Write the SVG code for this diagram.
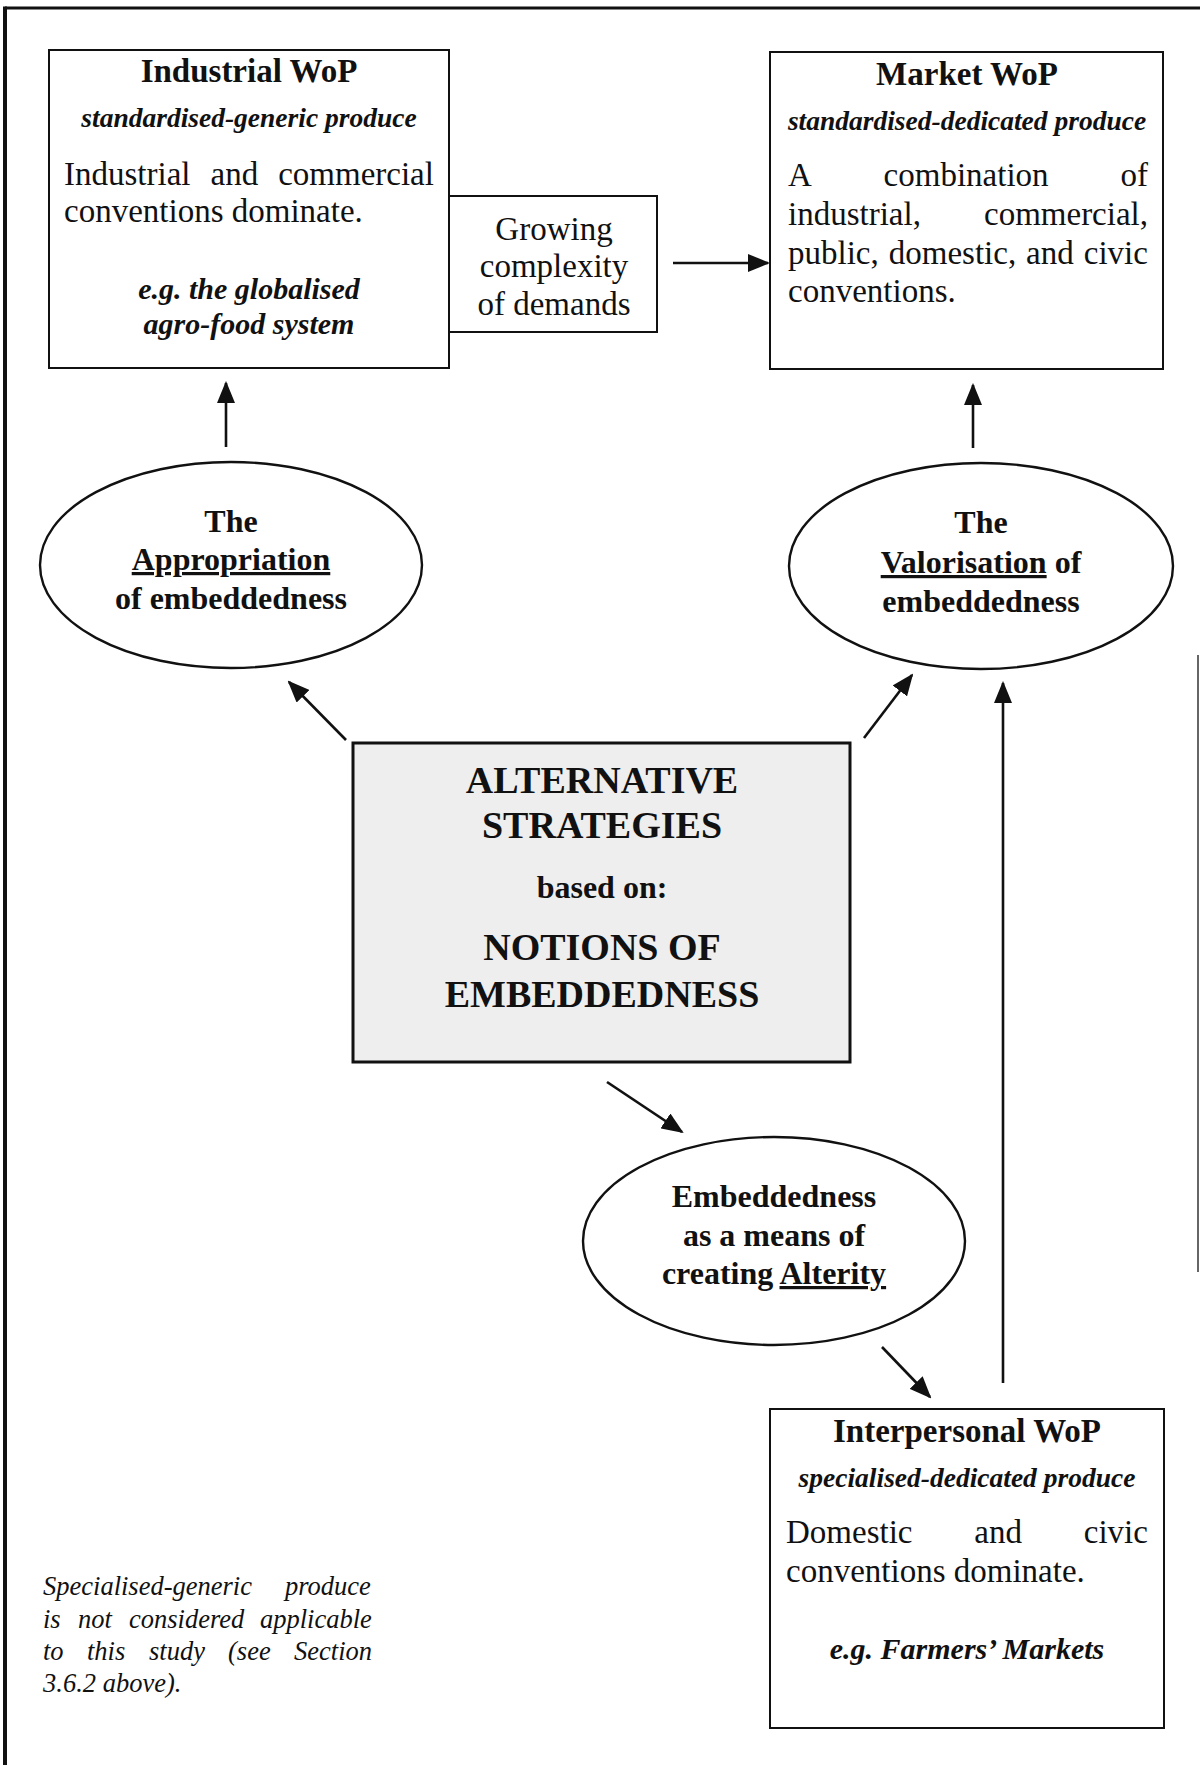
<svg xmlns="http://www.w3.org/2000/svg" width="1200" height="1765" viewBox="0 0 1200 1765">
<defs>
<marker id="ah" markerUnits="userSpaceOnUse" markerWidth="22" markerHeight="18" viewBox="0 0 22 18" refX="20" refY="9" orient="auto">
<path d="M0,0 L22,9 L0,18 z" fill="#111"/>
</marker>
</defs>
<style>
text{font-family:"Liberation Serif","Times New Roman",serif;fill:#111}
.box{fill:#fff;stroke:#111;stroke-width:2}
.ell{fill:#fff;stroke:#111;stroke-width:2.4}
.title{font-size:33px;font-weight:bold;text-anchor:middle}
.sub{font-size:27.5px;font-weight:bold;font-style:italic;text-anchor:middle}
.body{font-size:33px}
.eg{font-size:30px;font-weight:bold;font-style:italic;text-anchor:middle}
.eb{font-size:32px;font-weight:bold;text-anchor:middle}
.big{font-size:38px;font-weight:bold;text-anchor:middle}
.note{font-size:26.5px;font-style:italic}
.conn line{stroke:#111;stroke-width:2.6;marker-end:url(#ah)}
</style>
<rect x="0" y="0" width="1200" height="1765" fill="#fff"/>
<g id="frame">
<line x1="5" y1="8" x2="1200" y2="8" stroke="#111" stroke-width="3"/>
<line x1="5" y1="6.5" x2="5" y2="1765" stroke="#111" stroke-width="4"/>
<line x1="1198" y1="655" x2="1198" y2="1272" stroke="#666" stroke-width="2"/>
</g>

<g id="industrial">
<rect class="box" x="49" y="50" width="400" height="318"/>
<text class="title" x="249" y="82">Industrial WoP</text>
<text class="sub" x="249" y="127">standardised-generic produce</text>
<text class="body" y="185"><tspan x="64">Industrial</tspan><tspan x="210.5">and</tspan><tspan x="278.2">commercial</tspan></text>
<text class="body" x="64" y="222">conventions dominate.</text>
<text class="eg" x="249" y="299">e.g. the globalised</text>
<text class="eg" x="249" y="334">agro-food system</text>
</g>

<g id="growing">
<rect class="box" x="449" y="196" width="208" height="136"/>
<text class="body" x="554" y="240" text-anchor="middle">Growing</text>
<text class="body" x="554" y="277" text-anchor="middle">complexity</text>
<text class="body" x="554" y="315" text-anchor="middle">of demands</text>
</g>

<g id="market">
<rect class="box" x="770" y="52" width="393" height="317"/>
<text class="title" x="967" y="85">Market WoP</text>
<text class="sub" x="967" y="130">standardised-dedicated produce</text>
<text class="body" y="186"><tspan x="788">A</tspan><tspan x="883.6">combination</tspan><tspan x="1120.5">of</tspan></text>
<text class="body" y="225"><tspan x="788">industrial,</tspan><tspan x="984">commercial,</tspan></text>
<text class="body" y="264"><tspan x="788">public,</tspan><tspan x="888.8">domestic,</tspan><tspan x="1026.1">and</tspan><tspan x="1083.8">civic</tspan></text>
<text class="body" x="788" y="302">conventions.</text>
</g>

<g id="appropriation">
<ellipse class="ell" cx="231" cy="565" rx="191" ry="103"/>
<text class="eb" x="231" y="532">The</text>
<text class="eb" x="231" y="570"><tspan text-decoration="underline">Appropriation</tspan></text>
<text class="eb" x="231" y="609">of embeddedness</text>
</g>

<g id="valorisation">
<ellipse class="ell" cx="981" cy="566" rx="192" ry="103"/>
<text class="eb" x="981" y="533">The</text>
<text class="eb" x="981" y="573"><tspan text-decoration="underline">Valorisation</tspan> of</text>
<text class="eb" x="981" y="612">embeddedness</text>
</g>

<g id="strategies">
<rect x="353" y="743" width="497" height="319" fill="#eeeeee" stroke="#111" stroke-width="3"/>
<text class="big" x="602" y="793">ALTERNATIVE</text>
<text class="big" x="602" y="838">STRATEGIES</text>
<text class="eb" x="602" y="898">based on:</text>
<text class="big" x="602" y="960">NOTIONS OF</text>
<text class="big" x="602" y="1007">EMBEDDEDNESS</text>
</g>

<g id="alterity">
<ellipse class="ell" cx="774" cy="1241" rx="191" ry="104"/>
<text class="eb" x="774" y="1207">Embeddedness</text>
<text class="eb" x="774" y="1246">as a means of</text>
<text class="eb" x="774" y="1284">creating <tspan text-decoration="underline">Alterity</tspan></text>
</g>

<g id="interpersonal">
<rect class="box" x="770" y="1409" width="394" height="319"/>
<text class="title" x="967" y="1442">Interpersonal WoP</text>
<text class="sub" x="967" y="1487">specialised-dedicated produce</text>
<text class="body" y="1543"><tspan x="786">Domestic</tspan><tspan x="974.3">and</tspan><tspan x="1083.8">civic</tspan></text>
<text class="body" x="786" y="1582">conventions dominate.</text>
<text class="eg" x="967" y="1659">e.g. Farmers’ Markets</text>
</g>

<g id="footnote">
<text class="note" y="1595"><tspan x="43">Specialised-generic</tspan><tspan x="285">produce</tspan></text>
<text class="note" y="1628"><tspan x="43">is</tspan><tspan x="78">not</tspan><tspan x="129">considered</tspan><tspan x="260">applicable</tspan></text>
<text class="note" y="1660"><tspan x="43">to</tspan><tspan x="87">this</tspan><tspan x="149">study</tspan><tspan x="228">(see</tspan><tspan x="294">Section</tspan></text>
<text class="note" x="43" y="1692">3.6.2 above).</text>
</g>

<g id="connectors" class="conn">
<line x1="226" y1="447" x2="226" y2="383"/>
<line x1="973" y1="448" x2="973" y2="385"/>
<line x1="673" y1="263" x2="768" y2="263"/>
<line x1="346" y1="740" x2="289" y2="682"/>
<line x1="864" y1="738" x2="912" y2="675"/>
<line x1="607" y1="1082" x2="682" y2="1132"/>
<line x1="882" y1="1347" x2="930" y2="1397"/>
<line x1="1003" y1="1383" x2="1003" y2="683"/>
</g>
</svg>
